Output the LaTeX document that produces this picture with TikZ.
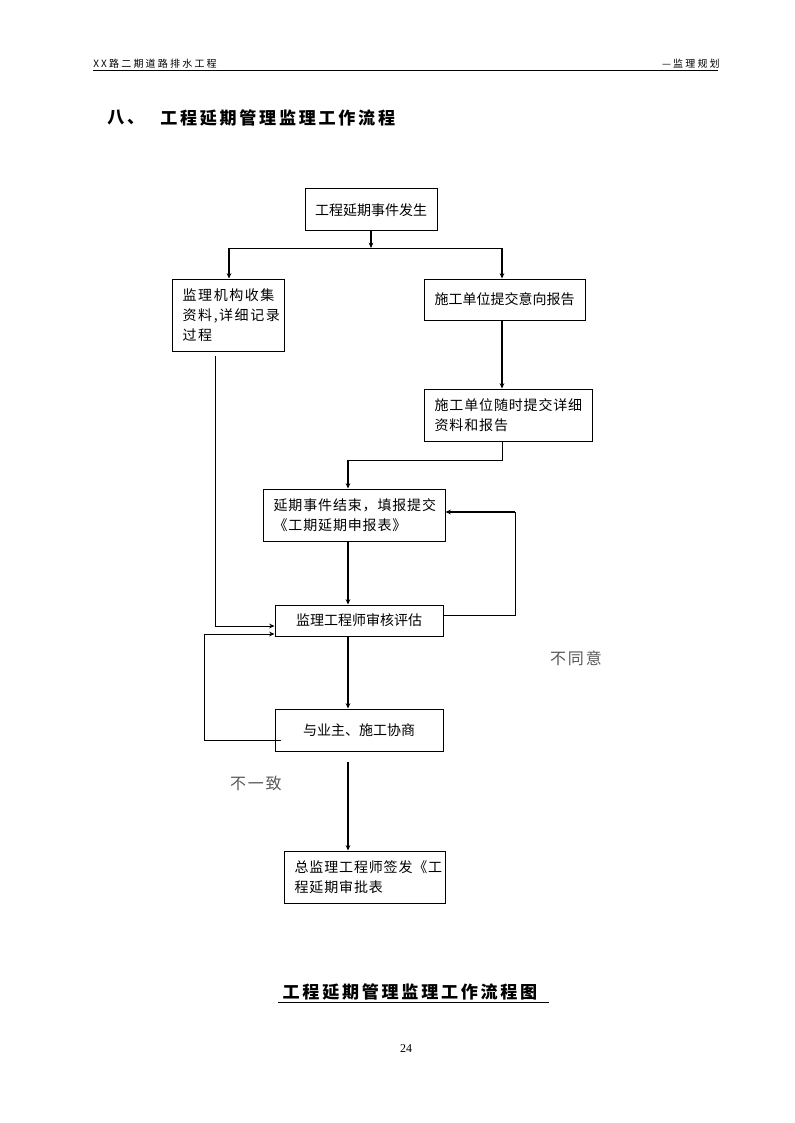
\documentclass[tikz,border=0pt]{standalone}
\usepackage{fontspec}
\setmainfont{Liberation Serif}
\newfontfamily\cjk{Noto Sans CJK SC}
\newfontfamily\cjksp[LetterSpace=6]{Noto Sans CJK SC}
\newfontfamily\cjkwide[LetterSpace=11]{Noto Sans CJK SC}
\newfontfamily\cjkhdr[LetterSpace=22]{Noto Sans CJK SC}
\newfontfamily\cjktitle[LetterSpace=16]{Noto Sans CJK SC}
\usetikzlibrary{arrows.meta,positioning}

\begin{document}
\begin{tikzpicture}[x=0.75pt,y=-0.75pt,
  box/.style={draw, rectangle, inner sep=0pt, line width=0.75pt, font=\cjk\fontsize{10.5}{15}\selectfont},
  tbox/.style={box, align=left, inner xsep=8pt, font=\cjksp\fontsize{10.5}{15}\selectfont},
  lbl/.style={font=\cjkwide\fontsize{12}{14}\selectfont, text=black!65},
  hdr/.style={font=\cjkhdr\fontsize{7.5}{9}\selectfont, inner sep=0pt},
  ttl/.style={font=\cjktitle\bfseries\fontsize{12.8}{15}\selectfont, inner sep=0pt},
  thk/.style={line width=1.5pt},
  thn/.style={line width=0.75pt},
  >={Stealth[length=4pt,width=3.5pt]}]

    \fill[white] (0,0) rectangle (794,1123);
    \useasboundingbox (0,0) rectangle (794,1123);

    % page header
    \node[hdr, anchor=west] (proj) at (93,64) {XX路二期道路排水工程};
    \node[hdr, anchor=east] (plan) at (720,64) {—监理规划};
    \coordinate (ruleL) at (93,71);
    \coordinate (ruleR) at (718,71);
    \draw[thn] (ruleL) -- (ruleR);

    % section title
    \node[ttl, anchor=west] (secno) at (107,118) {八、};
    \node[ttl, anchor=west] (sectitle) at (160,118) {工程延期管理监理工作流程};

    % boxes
    \node[box, minimum width=99pt, minimum height=31.5pt] (occur) at (371,210) {工程延期事件发生};
    \node[tbox, text width=68pt, minimum height=54pt, font=\cjkwide\fontsize{10.5}{15}\selectfont] (collect) at (228,315) {监理机构收集\\资料,详细记录\\过程};
    \node[box, minimum width=120.75pt, minimum height=30.75pt] (notice) at (504.5,299.5) {施工单位提交意向报告};
    \node[tbox, text width=110pt, minimum height=39pt] (detail) at (508,415) {施工单位随时提交详细\\资料和报告};
    \node[tbox, text width=120.5pt, minimum height=39pt] (finish) at (354,515) {延期事件结束，填报提交\\《工期延期申报表》};
    \node[box, minimum width=126pt, minimum height=23.25pt] (review) at (359,620.5) {监理工程师审核评估};
    \node[box, minimum width=126pt, minimum height=31.5pt] (consult) at (359,730) {与业主、施工协商};
    \node[tbox, text width=104.75pt, minimum height=39pt] (approve) at (364.5,877) {总监理工程师签发《工\\程延期审批表};

    % labels
    \node[lbl] (disagree) at (576,658) {不同意};
    \node[lbl] (mismatch) at (256,783) {不一致};

    % junctions
    \coordinate (split) at (371,248);
    \coordinate (splitL) at (229,248);
    \coordinate (splitR) at (502,248);
    \coordinate (merge) at (502,460);
    \coordinate (mergeL) at (348,460);
    \coordinate (leftTop) at (215,356);
    \coordinate (leftBot) at (215,626);
    \coordinate (backR) at (515,615);
    \coordinate (backT) at (515,512);
    \coordinate (loopS) at (281,740);
    \coordinate (loopB) at (204,740);
    \coordinate (loopT) at (204,634);
    \coordinate (gap) at (348,762);

    % connectors
    \draw[thk,->] (occur.south) -- (split);
    \draw[thn] (splitL) -- (splitR);
    \draw[thk,->] (splitL) -- (splitL |- collect.north);
    \draw[thk,->] (splitR) -- (splitR |- notice.north);
    \draw[thk,->] (splitR |- notice.south) -- (splitR |- detail.north);
    \draw[thn] (merge |- detail.south) -- (merge) -- (mergeL);
    \draw[thk,->] (mergeL) -- (mergeL |- finish.north);
    \draw[thk,->] (mergeL |- finish.south) -- (mergeL |- review.north);
    \draw[thn,->] (leftTop) -- (leftBot) -- (leftBot -| review.west);
    \draw[thn] (backR -| review.east) -- (backR) -- (backT);
    \draw[thk,->] (backT) -- (backT -| finish.east);
    \draw[thk,->] (mergeL |- review.south) -- (mergeL |- consult.north);
    \draw[thn,->] (loopS) -- (loopB) -- (loopT) -- (loopT -| review.west);
    \draw[thk,->] (gap) -- (gap |- approve.north);

    % caption
    \node[ttl] (caption) at (410,992) {工程延期管理监理工作流程图};
    \coordinate (capL) at (278,1002);
    \coordinate (capR) at (549,1002);
    \draw[thn] (capL) -- (capR);

    \node[font=\fontsize{9}{10}\selectfont] (page) at (406,1049) {24};
\end{tikzpicture}
\end{document}
